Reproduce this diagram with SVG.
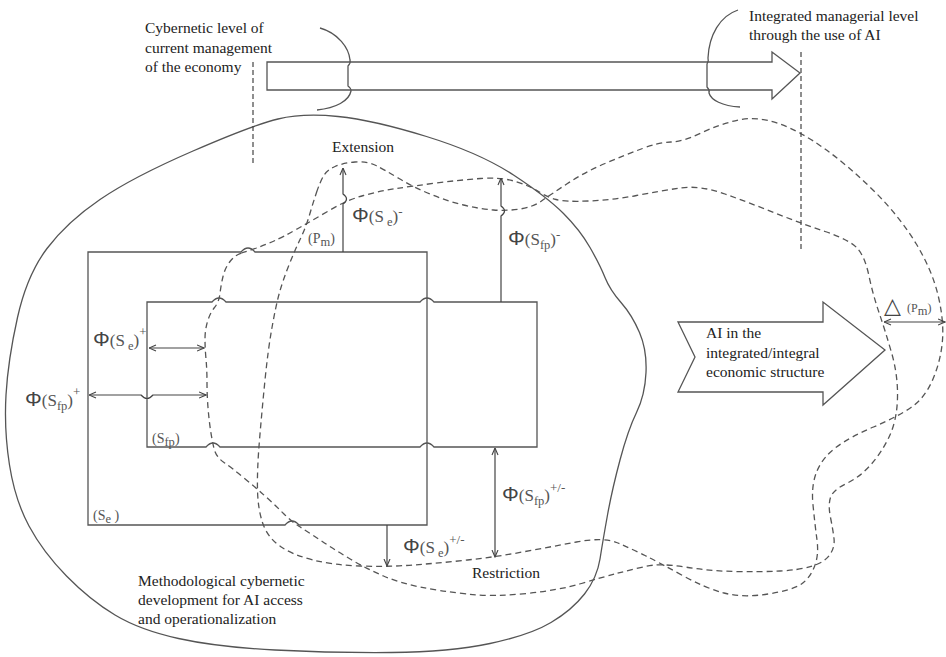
<svg xmlns="http://www.w3.org/2000/svg" width="946" height="657" viewBox="0 0 946 657">
<style>
.ln{fill:none;stroke:#555;stroke-width:1.3}
.dash{fill:none;stroke:#555;stroke-width:1.3;stroke-dasharray:6 4}
.vdash{fill:none;stroke:#444;stroke-width:1.2;stroke-dasharray:5 3}
.arr{fill:none;stroke:#444;stroke-width:1.2}
.txt{font-family:"Liberation Serif","Times New Roman",serif;font-size:15.5px;fill:#222}
.lab{font-family:"Liberation Serif","Times New Roman",serif;font-size:17px;fill:#555}
.P{font-family:"Liberation Sans",Arial,sans-serif;font-size:21px;fill:#444}
.sub{font-size:12.5px}
.sup{font-size:13px}
.sm{font-family:"Liberation Serif","Times New Roman",serif;font-size:14px;fill:#555}
</style>
<defs>
<marker id="ah" viewBox="0 0 8 8" refX="7.5" refY="4" markerWidth="8" markerHeight="8" markerUnits="userSpaceOnUse" orient="auto-start-reverse">
<path d="M0.5,1 L7.5,4 L0.5,7" fill="none" stroke="#444" stroke-width="1.1"/>
</marker>
</defs>
<rect width="946" height="657" fill="#fff"/>

<g id="outer-blob">
<path class="ln" d="M278,119 Q303,113 338,116.5 Q373,120 426.5,136.5 Q480,153 513.5,175 Q547,197 563.5,213.5 Q580,230 590,247.5 Q600,265 605,277.5 Q610,290 621,302.5 Q632,315 639.5,332.5 Q647,350 646,372.5 Q645,395 636.5,412.5 Q628,430 620,460 Q612,490 607.5,515 Q603,540 600,559 Q597,578 584.5,594 Q572,610 551,622.5 Q530,635 490,643.5 Q450,652 391.5,652.5 Q333,653 275,650 Q217,647 178.5,638.5 Q140,630 115,615 Q90,600 66.5,576 Q43,552 29,526 Q15,500 9.5,465 Q4,430 6,395 Q8,360 17.5,317.5 Q27,275 47,248.5 Q67,222 100,199.5 Q133,177 193,151 Q253,125 278,119 Z"/>
</g>

<g id="loop-p">
<path class="dash" d="M316.5,192.5 Q320,182 323.5,176 Q327,170 335,166.5 Q343,163 355,162 Q367,161 376,165.5 Q385,170 399,178.5 Q413,187 430,194 Q447,201 463.5,205 Q480,209 493.5,210 Q507,211 520,209 Q533,207 541.5,201 Q550,195 567.5,183.5 Q585,172 605,163.5 Q625,155 642.5,148.5 Q660,142 671,142 Q682,142 701,133 Q720,124 738.5,120 Q757,116 778.5,123.5 Q800,131 825,149 Q850,167 875,192 Q900,217 916,243.5 Q932,270 938,295 Q944,320 942.5,340 Q941,360 933,379 Q925,398 911,407.5 Q897,417 873.5,427 Q850,437 836.5,447 Q823,457 817,471 Q811,485 813,505 Q815,525 817,540 Q819,555 814.5,566.5 Q810,578 801.5,584 Q793,590 768,594 Q743,598 724,593 Q705,588 682.5,575.5 Q660,563 645,555.5 Q630,548 616.5,542.5 Q603,537 576.5,542 Q550,547 522.5,552 Q495,557 467.5,560 Q440,563 413.5,565 Q387,567 360,566 Q333,565 313,560 Q293,555 280.5,546.5 Q268,538 263,524 Q258,510 257.5,490 Q257,470 259.5,440 Q262,410 265,380 Q268,350 272,327.5 Q276,305 279.5,292.5 Q283,280 289,265 Q295,250 300.5,238.5 Q306,227 309.5,215 Q313,203 316.5,192.5 Z"/>
</g>

<g id="loop-q">
<path class="dash" d="M241.5,253 Q248,251 256.5,248 Q265,245 274,241 Q283,237 298,228.5 Q313,220 330,210 Q347,200 363.5,195.5 Q380,191 396.5,188.5 Q413,186 436.5,183 Q460,180 480.5,178.5 Q501,177 515.5,181.5 Q530,186 538.5,191.5 Q547,197 556,199.5 Q565,202 589,201 Q613,200 636.5,195.5 Q660,191 680,188 Q700,185 725,194 Q750,203 775,213 Q800,223 825,231.5 Q850,240 857.5,248.5 Q865,257 869,276 Q873,295 879,312.5 Q885,330 891.5,352.5 Q898,375 897.5,397.5 Q897,420 889.5,436 Q882,452 871,464.5 Q860,477 846.5,483.5 Q833,490 830.5,497.5 Q828,505 830.5,517.5 Q833,530 834,538.5 Q835,547 830,554.5 Q825,562 812.5,566 Q800,570 780,571 Q760,572 735,571.5 Q710,571 685,567 Q660,563 645,566.5 Q630,570 616.5,573.5 Q603,577 581.5,583.5 Q560,590 526.5,593.5 Q493,597 466.5,594 Q440,591 420,587 Q400,583 383.5,576 Q367,569 351,559.5 Q335,550 320,540 Q305,530 298.5,526 Q292,522 283.5,513.5 Q275,505 265,496 Q255,487 243.5,477.5 Q232,468 224,462.5 Q216,457 214,448.5 Q212,440 210.5,430 Q209,420 208,407.5 Q207,395 207,382.5 Q207,370 206,359 Q205,348 205,339 Q205,330 207.5,321.5 Q210,313 214.5,307.5 Q219,302 220,293.5 Q221,285 223,276.5 Q225,268 230,261.5 Q235,255 241.5,253 Z"/>
</g>

<g id="top-arrow">
<path class="ln" d="M267,62 H772 V52 L800,73 L772,99 V90 H267 Z"/>
<path class="ln" d="M320,28 C338,33 349,48 350,60 Q351,63 348,66 L348,86 Q351,88 351,91 C349,101 336,108 317,110"/>
<path class="ln" d="M738,10 C720,16 709,35 708,58 Q709,61 707,64 L707,87 Q710,90 709,93 C711,100 722,106 740,107"/>
</g>

<g id="level-markers">
<line class="vdash" x1="253" y1="62" x2="253" y2="163"/>
<line class="vdash" x1="801" y1="52" x2="801" y2="252"/>
</g>

<g id="rect-se">
<path class="ln" d="M88,252 H241 Q248,244 255,252 H427 V525 H299 Q292,517 285,525 H88 Z"/>
</g>

<g id="rect-sfp">
<path class="ln" d="M147,302 H212 Q219,294 226,302 H420 Q427,294 434,302 H537 V447 H434 Q427,439 420,447 H220 Q213,439 206,447 H147 Z"/>
</g>

<g id="ai-arrow">
<path class="ln" d="M678,322 H823 V302 L885,350 L823,405 V392 H678 L695,357 Z"/>
<text class="txt" x="706" y="338">AI in the</text>
<text class="txt" x="706" y="358">integrated/integral</text>
<text class="txt" x="706" y="377">economic structure</text>
</g>

<g id="connectors">
<path class="arr" d="M343,252 V204 Q350,199 343,194 V168" marker-end="url(#ah)"/>
<path class="arr" d="M501,302 V216 Q508,211 501,206 V178" marker-end="url(#ah)"/>
<path class="arr" d="M149,348 H204" marker-start="url(#ah)" marker-end="url(#ah)"/>
<path class="arr" d="M89,395 H141 Q147,402 153,395 H206" marker-start="url(#ah)" marker-end="url(#ah)"/>
<path class="arr" d="M387,525 V566" marker-end="url(#ah)"/>
<path class="arr" d="M495,448 V557" marker-start="url(#ah)" marker-end="url(#ah)"/>
<path class="arr" d="M884,322 H945" marker-start="url(#ah)" marker-end="url(#ah)"/>
</g>

<g id="labels">
<text class="txt" x="145" y="33">Cybernetic level of</text>
<text class="txt" x="145" y="53">current management</text>
<text class="txt" x="145" y="72">of the economy</text>
<text class="txt" x="749" y="21">Integrated managerial level</text>
<text class="txt" x="749" y="40">through the use of AI</text>
<text class="txt" x="332" y="152">Extension</text>
<text class="txt" x="472" y="578">Restriction</text>
<text class="txt" x="138" y="586">Methodological cybernetic</text>
<text class="txt" x="138" y="605">development for AI access</text>
<text class="txt" x="138" y="624">and operationalization</text>

<text class="lab" x="352" y="222"><tspan class="P">Φ</tspan><tspan>(S</tspan><tspan class="sub" dy="4"> e</tspan><tspan dy="-4">)</tspan><tspan class="sup" dy="-6">-</tspan></text>
<text class="lab" x="508" y="245"><tspan class="P">Φ</tspan><tspan>(S</tspan><tspan class="sub" dy="4">fp</tspan><tspan dy="-4">)</tspan><tspan class="sup" dy="-6">-</tspan></text>
<text class="lab" x="93" y="346"><tspan class="P">Φ</tspan><tspan>(S</tspan><tspan class="sub" dy="4"> e</tspan><tspan dy="-4">)</tspan><tspan class="sup" dy="-10">+</tspan></text>
<text class="lab" x="25" y="406"><tspan class="P">Φ</tspan><tspan>(S</tspan><tspan class="sub" dy="4">fp</tspan><tspan dy="-4">)</tspan><tspan class="sup" dy="-10">+</tspan></text>
<text class="lab" x="403" y="553"><tspan class="P">Φ</tspan><tspan>(S</tspan><tspan class="sub" dy="4"> e</tspan><tspan dy="-4">)</tspan><tspan class="sup" dy="-9">+/-</tspan></text>
<text class="lab" x="502" y="501"><tspan class="P">Φ</tspan><tspan>(S</tspan><tspan class="sub" dy="4">fp</tspan><tspan dy="-4">)</tspan><tspan class="sup" dy="-9">+/-</tspan></text>
<text class="sm" x="308" y="243">(P<tspan class="sub" dy="3">m</tspan><tspan dy="-3">)</tspan></text>
<text class="sm" x="152" y="443">(S<tspan class="sub" dy="3">fp</tspan><tspan dy="-3">)</tspan></text>
<text class="sm" x="93" y="520">(S<tspan class="sub" dy="3">e</tspan><tspan dy="-3"> )</tspan></text>
<text x="884" y="313" style="font-family:'DejaVu Sans',sans-serif;font-size:22px;fill:#444">△</text>
<text class="sm" x="907" y="312" style="font-size:12px">(P<tspan class="sub" dy="3">m</tspan><tspan dy="-3">)</tspan></text>
</g>
</svg>
